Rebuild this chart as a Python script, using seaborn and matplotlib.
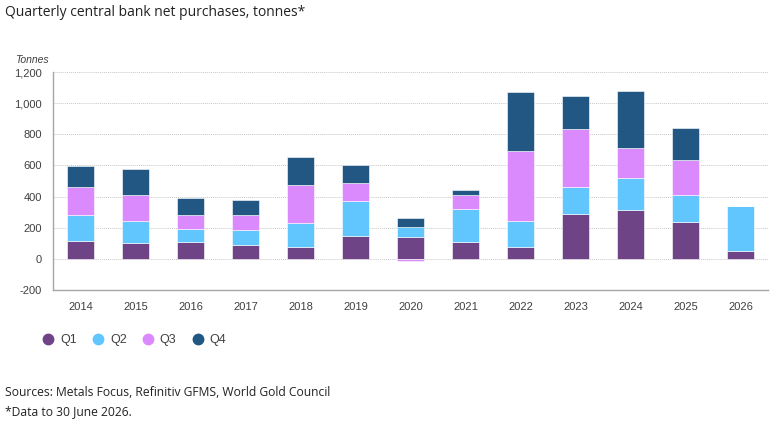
import numpy as np
import pandas as pd
import matplotlib
matplotlib.use("Agg")
import matplotlib.pyplot as plt
from matplotlib.lines import Line2D
import seaborn as sns

years = ["2014", "2015", "2016", "2017", "2018", "2019", "2020", "2021",
         "2022", "2023", "2024", "2025", "2026"]
q1 = [117, 100, 106, 90, 79, 145, 141, 111, 79, 290, 311, 234, 51]
q2 = [165, 141, 86, 93, 153, 228, 61, 211, 162, 171, 211, 176, 290]
q3 = [179, 169, 92, 101, 245, 111, -12, 88, 452, 371, 192, 227, 0]
q4 = [138, 166, 104, 94, 176, 120, 60, 34, 380, 215, 365, 205, 0]
quarters = ["Q1", "Q2", "Q3", "Q4"]
colors = ["#6E4486", "#62C6FE", "#DB8AFD", "#225783"]
yticks = [-200, 0, 200, 400, 600, 800, 1000, 1200]

sns.set_theme(style="white")
plt.rcParams["font.family"] = ["Liberation Sans", "DejaVu Sans"]

fig = plt.figure(figsize=(7.74, 4.24), dpi=100)
ax = fig.add_axes([53 / 774, 1 - 290 / 424, 715 / 774, (290 - 72) / 424])

series = [q1, q2, q3, q4]
pos_base = np.zeros(len(years))
neg_base = np.zeros(len(years))
for name, vals, col in zip(quarters, series, colors):
    v = np.array(vals, dtype=float)
    bottom = np.where(v >= 0, pos_base, neg_base)
    df = pd.DataFrame({"year": years, "value": v})
    sns.barplot(data=df, x="year", y="value", order=years, color=col,
                width=0.485, bottom=bottom, edgecolor="white", linewidth=0.4,
                saturation=1, ax=ax, errorbar=None, zorder=3)
    pos_base = pos_base + np.where(v >= 0, v, 0)
    neg_base = neg_base + np.where(v < 0, v, 0)

ax.set_ylim(-200, 1200)
ax.set_xlim(-0.5, len(years) - 0.5)
ax.set_yticks(yticks)
ax.set_yticklabels([f"{t:,}" for t in yticks])
ax.set_xlabel("")
ax.set_ylabel("")
for t in yticks[1:]:
    ax.axhline(t, color="#C8C8C8", linestyle=(0, (1, 1)), linewidth=0.7, zorder=1)
for s in ["top", "right"]:
    ax.spines[s].set_visible(False)
for s in ["left", "bottom"]:
    ax.spines[s].set_color("#A6A6A6")
    ax.spines[s].set_linewidth(1.0)
ax.tick_params(axis="both", length=0, labelsize=8, colors="#404040")
ax.tick_params(axis="x", pad=9)
ax.tick_params(axis="y", pad=8)

fig.text(15 / 774, 1 - 60 / 424, "Tonnes", fontsize=7.5, style="italic",
         color="#404040", va="center", ha="left")
fig.text(5 / 774, 1 - 12 / 424, "Quarterly central bank net purchases, tonnes*",
         fontsize=10, color="#222222", family=["Open Sans", "DejaVu Sans"],
         va="center", ha="left")

handles = [Line2D([0], [0], marker="o", linestyle="none", markersize=7.5,
                  markerfacecolor=c, markeredgecolor=c) for c in colors]
fig.legend(handles, quarters, loc="center left",
           bbox_to_anchor=(42 / 774, 1 - 340 / 424), ncol=4, frameon=False,
           fontsize=9, handletextpad=0.45, columnspacing=1.2,
           labelcolor="#404040", borderaxespad=0, borderpad=0, handlelength=1.0)

fig.text(5 / 774, 1 - 392 / 424, "Sources: Metals Focus, Refinitiv GFMS, World Gold Council",
         fontsize=8.75, color="#222222", family=["Open Sans", "DejaVu Sans"],
         va="center", ha="left")
fig.text(5 / 774, 1 - 412 / 424, "*Data to 30 June 2026.",
         fontsize=8.75, color="#222222", family=["Open Sans", "DejaVu Sans"],
         va="center", ha="left")

fig.savefig("out.png", dpi=100)
